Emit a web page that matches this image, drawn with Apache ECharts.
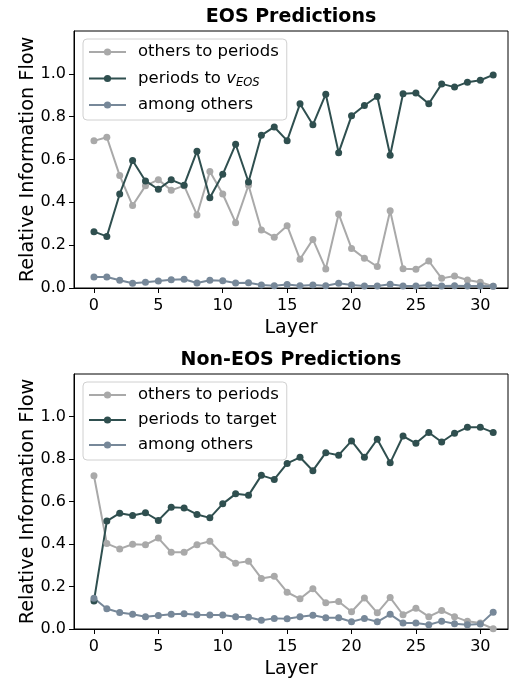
<!DOCTYPE html>
<html>
<head>
<meta charset="utf-8">
<script src="https://cdn.jsdelivr.net/npm/echarts@6/dist/echarts.min.js"></script>
<style>html,body{margin:0;padding:0;background:#fff}#c{width:509px;height:680px}</style>
</head>
<body>
<div id="c"></div>
<script>
const layers = [0,1,2,3,4,5,6,7,8,9,10,11,12,13,14,15,16,17,18,19,20,21,22,23,24,25,26,27,28,29,30,31];
const xTicks = [0,5,10,15,20,25,30];
const yTicks = [0,0.2,0.4,0.6,0.8,1.0];

// EOS predictions
const eosOthersToPeriods = [0.687,0.704,0.525,0.385,0.477,0.506,0.456,0.478,0.341,0.544,0.439,0.305,0.480,0.271,0.237,0.291,0.134,0.227,0.089,0.346,0.185,0.139,0.100,0.361,0.090,0.087,0.126,0.045,0.056,0.037,0.027,0.008];
const eosPeriodsToTarget = [0.263,0.241,0.439,0.595,0.500,0.461,0.505,0.480,0.639,0.421,0.531,0.671,0.495,0.713,0.752,0.688,0.860,0.762,0.905,0.632,0.804,0.852,0.894,0.620,0.907,0.910,0.860,0.953,0.938,0.961,0.970,0.995];
const eosAmongOthers = [0.051,0.051,0.036,0.022,0.027,0.033,0.039,0.041,0.023,0.036,0.034,0.023,0.025,0.014,0.011,0.016,0.011,0.014,0.011,0.022,0.014,0.009,0.009,0.017,0.009,0.009,0.014,0.009,0.011,0.009,0.009,0.008];

// Non-EOS predictions
const nonOthersToPeriods = [0.721,0.402,0.377,0.399,0.396,0.428,0.361,0.361,0.397,0.413,0.349,0.310,0.319,0.238,0.248,0.173,0.142,0.190,0.123,0.129,0.081,0.146,0.076,0.148,0.067,0.098,0.058,0.087,0.058,0.036,0.028,0.001];
const nonPeriodsToTarget = [0.132,0.508,0.545,0.534,0.547,0.511,0.573,0.570,0.539,0.523,0.589,0.636,0.629,0.723,0.704,0.779,0.808,0.745,0.830,0.818,0.885,0.808,0.893,0.782,0.908,0.874,0.925,0.880,0.921,0.949,0.949,0.925];
const nonAmongOthers = [0.145,0.095,0.078,0.069,0.058,0.064,0.069,0.072,0.067,0.066,0.066,0.058,0.055,0.041,0.050,0.048,0.058,0.065,0.053,0.053,0.034,0.050,0.034,0.069,0.028,0.028,0.020,0.037,0.025,0.020,0.023,0.079];

const titles = ['EOS Predictions', 'Non-EOS Predictions'];
const names = ['others to periods', 'periods to vEOS', 'periods to target', 'among others'];
const colors = {others: '#a9a9a9', periods: '#2f4f4f', among: '#778899'};

const FONT = 'DejaVu Sans';
const pair = arr => arr.map((v, i) => [layers[i], v]);

const gridTops = [31, 374];
function xAxis(idx) {
  return {
    type: 'value', gridIndex: idx, min: -1.55, max: 32.15,
    name: 'Layer', nameLocation: 'middle', nameGap: 31, nameMoveOverlap: false,
    nameTextStyle: {fontFamily: FONT, fontSize: 19, color: '#000'},
    axisLine: {show: true, onZero: false, lineStyle: {color: '#000', width: 1}},
    axisTick: {show: true, length: 5, lineStyle: {color: '#000', width: 1}, customValues: xTicks},
    axisLabel: {fontFamily: FONT, fontSize: 16, color: '#000', margin: 10, customValues: xTicks},
    splitLine: {show: false}
  };
}
function yAxis(idx) {
  return {
    type: 'value', gridIndex: idx, min: 0, max: 1.2,
    name: 'Relative Information Flow', nameLocation: 'middle', nameGap: 37, nameRotate: 90, nameMoveOverlap: false,
    nameTextStyle: {fontFamily: FONT, fontSize: 19.3, color: '#000'},
    axisLine: {show: true, onZero: false, lineStyle: {color: '#000', width: 1}},
    axisTick: {show: true, length: 5, lineStyle: {color: '#000', width: 1}, customValues: yTicks},
    axisLabel: {fontFamily: FONT, fontSize: 16, color: '#000', margin: 8, customValues: yTicks,
      formatter: v => v.toFixed(1)},
    splitLine: {show: false}
  };
}
function line(name, data, color, idx) {
  return {
    type: 'line', name: name, xAxisIndex: idx, yAxisIndex: idx, data: pair(data),
    symbol: 'circle', symbolSize: 7, showSymbol: true,
    lineStyle: {color: color, width: 2}, itemStyle: {color: color},
    emphasis: {disabled: true}, animation: false, z: 3
  };
}
function legend(idx, items) {
  return {
    orient: 'vertical', left: 83, top: gridTops[idx] + 8,
    padding: [4, 8, 6, 5], itemWidth: 37, itemHeight: 9, itemGap: 7,
    backgroundColor: 'rgba(255,255,255,0.8)', borderColor: '#d0d0d0', borderWidth: 1, borderRadius: 4,
    data: items,
    selectedMode: false,
    lineStyle: {width: 2},
    textStyle: {fontFamily: FONT, fontSize: 16.5, color: '#000', lineHeight: 18, padding: [0, 0, 0, 7],
      rich: {
        i: {fontFamily: FONT, fontSize: 16.5, fontStyle: 'italic', color: '#000', lineHeight: 18},
        s: {fontFamily: FONT, fontSize: 11.5, fontStyle: 'italic', color: '#000', lineHeight: 18, padding: [9, 0, 0, 0]}
      }},
    formatter: n => n === 'periods to vEOS' ? 'periods to {i|v}{s|EOS}' : n
  };
}

const option = {
  backgroundColor: '#fff',
  animation: false,
  title: [
    {text: titles[0], left: 291, top: 8, textAlign: 'center', padding: 0,
      textStyle: {fontFamily: FONT, fontSize: 19, fontWeight: 'bold', color: '#000'}},
    {text: titles[1], left: 291, top: 351, textAlign: 'center', padding: 0,
      textStyle: {fontFamily: FONT, fontSize: 19, fontWeight: 'bold', color: '#000'}}
  ],
  grid: [
    {left: 74, top: gridTops[0], width: 434, height: 257, show: true, borderColor: '#000', borderWidth: 1, containLabel: false},
    {left: 74, top: gridTops[1], width: 434, height: 257, show: true, borderColor: '#000', borderWidth: 1, containLabel: false}
  ],
  xAxis: [xAxis(0), xAxis(1)],
  yAxis: [yAxis(0), yAxis(1)],
  legend: [
    legend(0, [names[0], names[1], names[3]]),
    legend(1, [names[0], names[2], names[3]])
  ],
  series: [
    line(names[0], eosOthersToPeriods, colors.others, 0),
    line(names[1], eosPeriodsToTarget, colors.periods, 0),
    line(names[3], eosAmongOthers, colors.among, 0),
    line(names[0], nonOthersToPeriods, colors.others, 1),
    line(names[2], nonPeriodsToTarget, colors.periods, 1),
    line(names[3], nonAmongOthers, colors.among, 1)
  ]
};
const chart = echarts.init(document.getElementById('c'), null, {renderer: 'canvas'});
chart.setOption(option);
</script>
</body>
</html>
